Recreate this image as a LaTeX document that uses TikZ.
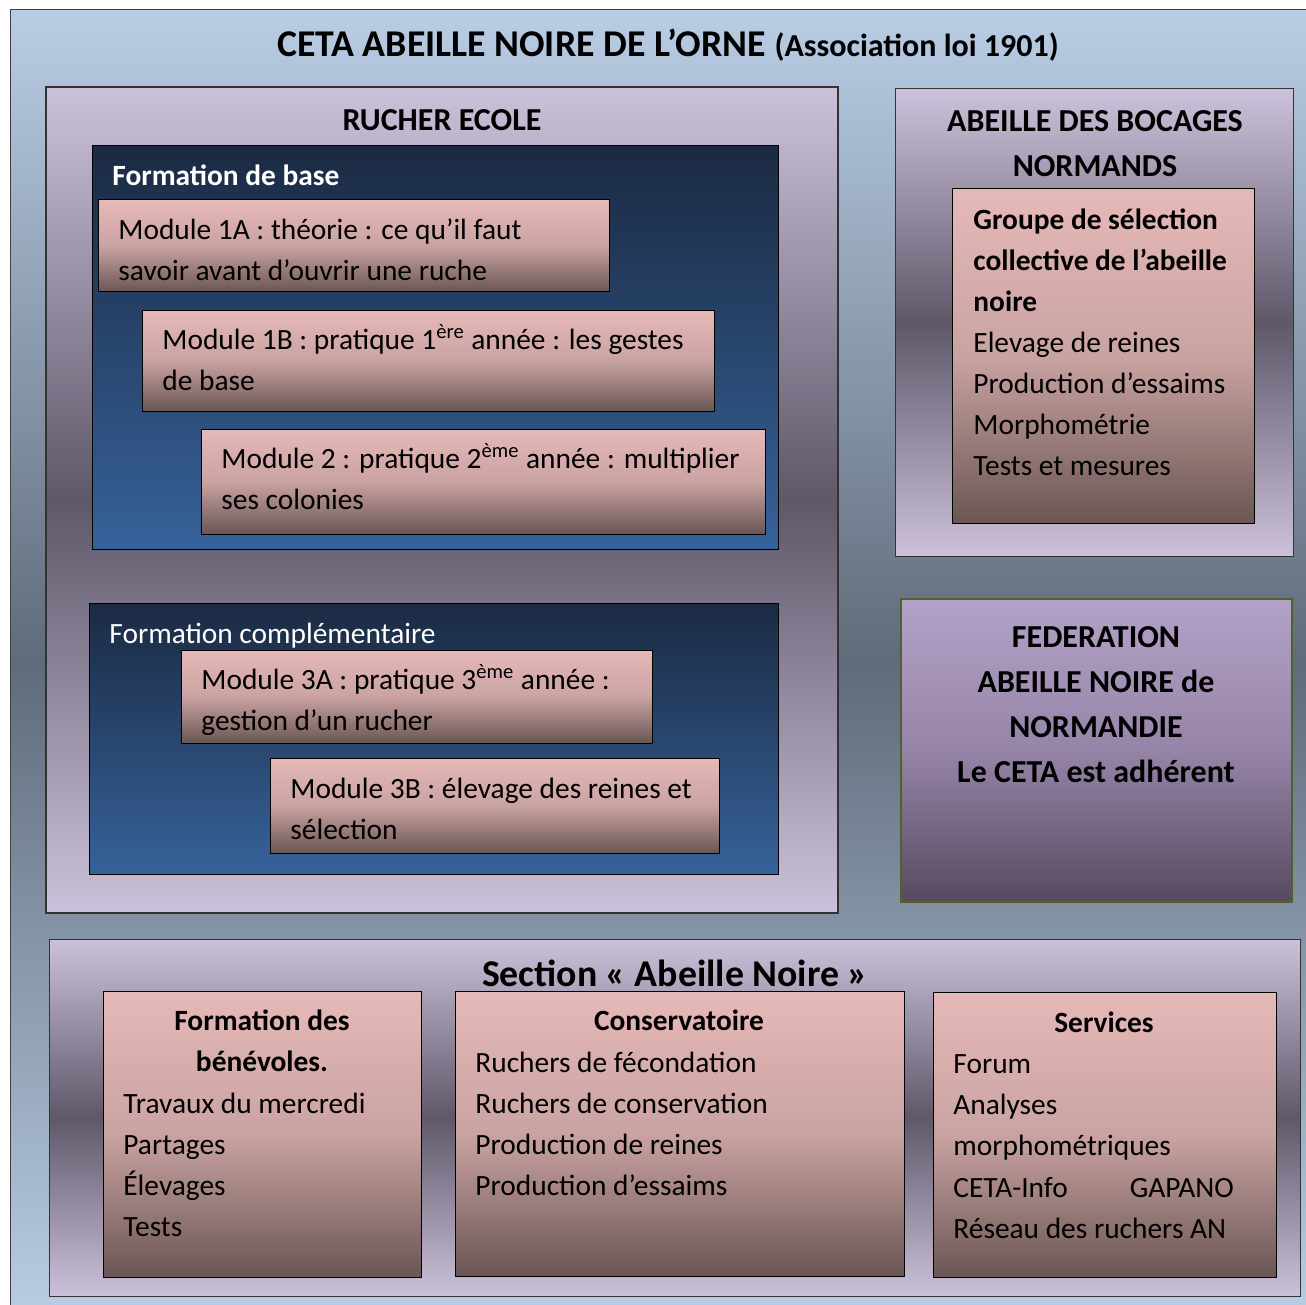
\documentclass[tikz,border=0pt]{standalone}
\usepackage{fontspec}
\setmainfont{Carlito}
\usetikzlibrary{fit}
\definecolor{skyblue}{HTML}{B9CDE5}
\definecolor{slateblue}{HTML}{5F6B7A}
\definecolor{lilac}{HTML}{CCC1DA}
\definecolor{lilacdark}{HTML}{5E5869}
\definecolor{rosy}{HTML}{E6B9B8}
\definecolor{rosymid}{HTML}{C9A3A2}
\definecolor{rosydark}{HTML}{6A5654}
\definecolor{navytop}{HTML}{1B2A42}
\definecolor{navybot}{HTML}{36629A}
\definecolor{fedtop}{HTML}{B3A2C7}
\definecolor{fedmid}{HTML}{9684A8}
\definecolor{fedbot}{HTML}{564A5F}
\definecolor{olive}{HTML}{4F6228}
\tikzset{
  outerbox/.style={draw=black!75, line width=0.5pt, inner sep=0pt,
    top color=skyblue, bottom color=skyblue, middle color=slateblue},
  lilacbox/.style={draw=black!80, line width=0.5pt, inner sep=0pt,
    top color=lilac, bottom color=lilac, middle color=lilacdark},
  rosybox/.style={draw=black, line width=0.5pt, inner sep=0pt,
    top color=rosy, bottom color=rosydark, middle color=rosymid},
  navybox/.style={draw=black, line width=0.5pt, inner sep=0pt,
    top color=navytop, bottom color=navybot},
  fedbox/.style={draw=olive, line width=1pt, inner sep=0pt,
    top color=fedtop, bottom color=fedbot, middle color=fedmid},
  txt/.style={inner sep=0pt, anchor=base west, yshift=-0.6pt,
    font=\fontsize{14.7}{17}\selectfont},
  ctxt/.style={txt, anchor=base},
  head/.style={inner sep=0pt, anchor=base, yshift=-0.6pt,
    font=\fontsize{16}{19}\selectfont\bfseries},
}
\begin{document}
\begin{tikzpicture}[x=0.5pt, y=-0.5pt]
  \useasboundingbox (0,0) rectangle (1306,1305);

  % CETA
  \node[outerbox, fit={(10,10) (1316,1316)}] (ceta) {};
  \node[inner sep=0pt, anchor=base] (titre) at (668,57)
    {\fontsize{18.9}{22}\selectfont\bfseries CETA ABEILLE NOIRE DE L’ORNE
     \fontsize{16}{19}\selectfont(Association loi 1901)};

  % Rucher ecole
  \node[lilacbox, line width=1.2pt, fit={(46,87) (838,913)}] (rucher) {};
  \node[head] (rucher-t) at (442,129) {RUCHER ECOLE};

  \node[navybox, fit={(92,146) (778,549)}] (base) {};
  \node[txt, text=white, font=\fontsize{14.7}{17}\selectfont\bfseries] (base-t) at (112,184) {Formation de base};

  \node[rosybox, fit={(98,200) (609,292)}] (m1a) {};
  \node[txt] (m1a-1) at (118,238) {Module 1A : théorie : ce qu’il faut};
  \node[txt] (m1a-2) at (118,279) {savoir avant d’ouvrir une ruche};

  \node[rosybox, fit={(142,310) (714,411)}] (m1b) {};
  \node[txt] (m1b-1) at (162,348) {Module 1B : pratique 1\textsuperscript{ère} année : les gestes};
  \node[txt] (m1b-2) at (162,389) {de base};

  \node[rosybox, fit={(201,429) (765,534)}] (m2) {};
  \node[txt] (m2-1) at (221,467) {Module 2 : pratique 2\textsuperscript{ème} année : multiplier};
  \node[txt] (m2-2) at (221,508) {ses colonies};

  \node[navybox, fit={(89,603) (778,874)}] (compl) {};
  \node[txt, text=white] (compl-t) at (109,642) {Formation complémentaire};

  \node[rosybox, fit={(181,650) (652,743)}] (m3a) {};
  \node[txt] (m3a-1) at (201,688) {Module 3A : pratique 3\textsuperscript{ème} année :};
  \node[txt] (m3a-2) at (201,729) {gestion d’un rucher};

  \node[rosybox, fit={(270,758) (719,853)}] (m3b) {};
  \node[txt] (m3b-1) at (290,797) {Module 3B : élevage des reines et};
  \node[txt] (m3b-2) at (290,838) {sélection};

  % Bocages
  \node[lilacbox, fit={(895,89) (1293,556)}] (bocages) {};
  \node[head] (bocages-1) at (1095,130) {ABEILLE DES BOCAGES};
  \node[head] (bocages-2) at (1095,175) {NORMANDS};

  \node[rosybox, fit={(952,189) (1254,523)}] (groupe) {};
  \foreach \t [count=\i from 0] in {{\bfseries Groupe de sélection},
      {\bfseries collective de l’abeille}, {\bfseries noire},
      Elevage de reines, Production d’essaims, Morphométrie, Tests et mesures}
    \node[txt] (groupe-\i) at (973,228+41*\i) {\t};

  % Federation
  \node[fedbox, fit={(901,599) (1292,902)}] (fede) {};
  \foreach \t [count=\i from 0] in {FEDERATION, ABEILLE NOIRE de, NORMANDIE,
      Le CETA est adhérent}
    \node[head] (fede-\i) at (1096,646+45*\i) {\t};

  % Section
  \node[lilacbox, fit={(49,939) (1300,1296)}] (section) {};
  \node[head, font=\fontsize{18.9}{22}\selectfont\bfseries] (section-t) at (675,985)
    {Section «~Abeille Noire~»};

  \node[rosybox, fit={(103,991) (421,1277)}] (benev) {};
  \node[ctxt, font=\fontsize{14.7}{17}\selectfont\bfseries] (benev-t1) at (262,1029) {Formation des};
  \node[ctxt, font=\fontsize{14.7}{17}\selectfont\bfseries] (benev-t2) at (262,1070) {bénévoles.};
  \foreach \t [count=\i from 0] in {Travaux du mercredi, Partages, Élevages, Tests}
    \node[txt] (benev-\i) at (123,1112+41*\i) {\t};

  \node[rosybox, fit={(455,991) (904,1276)}] (conserv) {};
  \node[ctxt, font=\fontsize{14.7}{17}\selectfont\bfseries] (conserv-t) at (679,1029) {Conservatoire};
  \foreach \t [count=\i from 0] in {Ruchers de fécondation, Ruchers de conservation,
      Production de reines, Production d’essaims}
    \node[txt] (conserv-\i) at (475,1071+41*\i) {\t};

  \node[rosybox, fit={(933,992) (1276,1277)}] (services) {};
  \node[ctxt, font=\fontsize{14.7}{17}\selectfont\bfseries] (services-t) at (1104,1031) {Services};
  \foreach \t [count=\i from 0] in {Forum, Analyses, morphométriques,
      {CETA-Info\hspace{31pt}GAPANO}, Réseau des ruchers AN}
    \node[txt] (services-\i) at (953,1072+41.3*\i) {\t};
\end{tikzpicture}
\end{document}
